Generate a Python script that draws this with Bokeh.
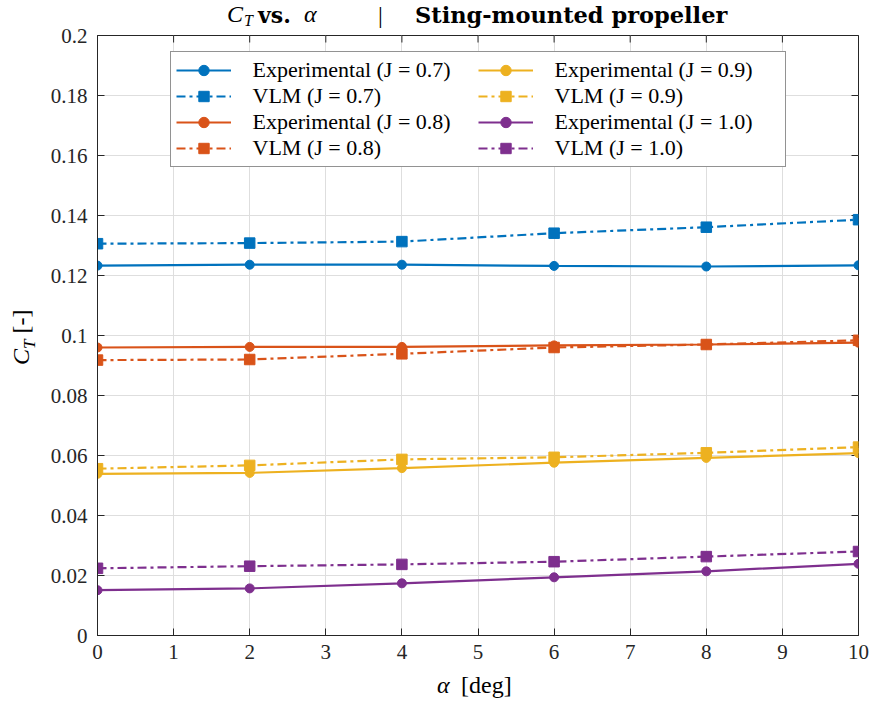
from bokeh.plotting import figure
from bokeh.models import FixedTicker, Range1d, Legend, LegendItem, Div
from bokeh.layouts import column, row
from bokeh.embed import file_html
from bokeh.resources import INLINE

# ---------------- data ----------------
alpha = [0, 2, 4, 6, 8, 10]
exp_j07 = [0.1233, 0.1236, 0.1236, 0.1232, 0.1230, 0.1234]
vlm_j07 = [0.1306, 0.1308, 0.1313, 0.1341, 0.1361, 0.1386]
exp_j08 = [0.0960, 0.0962, 0.0962, 0.0967, 0.0970, 0.0976]
vlm_j08 = [0.0918, 0.0920, 0.0939, 0.0960, 0.0970, 0.0984]
exp_j09 = [0.0539, 0.0542, 0.0558, 0.0576, 0.0592, 0.0608]
vlm_j09 = [0.0556, 0.0567, 0.0587, 0.0594, 0.0609, 0.0628]
exp_j10 = [0.0151, 0.0157, 0.0174, 0.0194, 0.0214, 0.0239]
vlm_j10 = [0.0224, 0.0231, 0.0237, 0.0246, 0.0263, 0.0280]

x_ticks = [0, 1, 2, 3, 4, 5, 6, 7, 8, 9, 10]
y_ticks = [0, 0.02, 0.04, 0.06, 0.08, 0.1, 0.12, 0.14, 0.16, 0.18, 0.2]
y_tick_labels = ["0", "0.02", "0.04", "0.06", "0.08", "0.1", "0.12", "0.14", "0.16", "0.18", "0.2"]

series = [
    ("Experimental (J = 0.7)", exp_j07, "#0072BD", "exp"),
    ("VLM (J = 0.7)", vlm_j07, "#0072BD", "vlm"),
    ("Experimental (J = 0.8)", exp_j08, "#D95319", "exp"),
    ("VLM (J = 0.8)", vlm_j08, "#D95319", "vlm"),
    ("Experimental (J = 0.9)", exp_j09, "#EDB120", "exp"),
    ("VLM (J = 0.9)", vlm_j09, "#EDB120", "vlm"),
    ("Experimental (J = 1.0)", exp_j10, "#7E2F8E", "exp"),
    ("VLM (J = 1.0)", vlm_j10, "#7E2F8E", "vlm"),
]

SERIF = "Liberation Serif"
BOLD = "DejaVu Serif"
AX = "#262626"

TITLE_H = 25
YLAB_W = 45
P_W, P_H = 871 - YLAB_W, 648
XLAB_H = 706 - TITLE_H - P_H

p = figure(width=P_W, height=P_H, output_backend="svg", toolbar_location=None,
           x_range=Range1d(0, 10), y_range=Range1d(0, 0.2),
           min_border_left=52, min_border_right=13, min_border_top=10, min_border_bottom=38,
           background_fill_color="white", border_fill_color=None,
           outline_line_color=AX, outline_line_width=1)

p.xaxis.ticker = FixedTicker(ticks=x_ticks)
p.yaxis.ticker = FixedTicker(ticks=y_ticks)
p.yaxis.major_label_overrides = {t: l for t, l in zip(y_ticks, y_tick_labels)}
p.axis.major_tick_in = 7
p.axis.major_tick_out = 0
p.axis.minor_tick_in = 0
p.axis.minor_tick_out = 0
p.axis.axis_line_color = AX
p.axis.major_tick_line_color = AX
p.axis.major_label_text_font = SERIF
p.axis.major_label_text_font_size = "21px"
p.axis.major_label_text_color = AX
p.xaxis.major_label_standoff = 9
p.yaxis.major_label_standoff = 10

p.xgrid.ticker = FixedTicker(ticks=x_ticks)
p.ygrid.ticker = FixedTicker(ticks=y_ticks)
p.grid.grid_line_color = "#dedede"
p.grid.grid_line_width = 1

# inward ticks on the right and top edges (half of each dash is clipped by the frame)
p.scatter([10] * len(y_ticks), y_ticks, marker="dash", size=14, line_color=AX, line_width=1)
p.scatter(x_ticks, [0.2] * len(x_ticks), marker="dash", angle=1.5707963, size=14,
          line_color=AX, line_width=1)

items = {}
for name, vals, col, kind in series:
    if kind == "exp":
        r1 = p.line(alpha, vals, line_color=col, line_width=2.2)
        r2 = p.scatter(alpha, vals, marker="circle", size=9, fill_color=col, line_color=col)
    else:
        r1 = p.line(alpha, vals, line_color=col, line_width=2.2, line_dash="9 4 3 4")
        r2 = p.scatter(alpha, vals, marker="square", size=10.5, fill_color=col, line_color=col)
    items[name] = LegendItem(label=name, renderers=[r1, r2])

legend = Legend(items=[items[s[0]] for s in series], ncols=2, location="top_center",
                label_text_font=SERIF, label_text_font_size="22px", label_text_color="black",
                border_line_color=AX, border_line_width=1, background_fill_alpha=1,
                glyph_width=55, glyph_height=26, label_height=26, label_width=225,
                spacing=0, padding=5, margin=16, label_standoff=22)
p.add_layout(legend, "center")


# ---------- text outside the frame, as HTML ----------
def chunk(html, left, baseline, font, size, weight="normal", style="normal"):
    top = baseline - 0.84 * size
    return ('<span style="position:absolute; left:%dpx; top:%.1fpx; font-family:\'%s\'; '
            'font-size:%.1fpx; line-height:%.1fpx; font-weight:%s; font-style:%s; '
            'white-space:nowrap; color:#000;">%s</span>'
            % (left, top, font, size, size, weight, style, html))


def box(w, h, inner):
    return ('<div style="position:relative; width:%dpx; height:%dpx; overflow:visible;">%s</div>'
            % (w, h, inner))


title_html = box(871, TITLE_H, "".join([
    chunk("C", 227, 22.5, SERIF, 24, style="italic"),
    chunk("T", 244, 26.5, SERIF, 16, style="italic"),
    chunk("vs.", 258, 22.5, BOLD, 22, weight="bold"),
    chunk("\u03b1", 304, 22.5, SERIF, 24, style="italic"),
    chunk("|", 378, 23, SERIF, 24),
    chunk("Sting-mounted propeller", 415, 22.5, BOLD, 22.5, weight="bold"),
]))
title_div = Div(text=title_html, width=871, height=TITLE_H, margin=0,
                styles={"overflow": "visible", "z-index": "2"})

ylab_inner = ('<div style="position:absolute; left:9px; top:%dpx; transform-origin:left top; '
              'transform:rotate(-90deg); white-space:nowrap; font-family:\'%s\'; font-size:24px; '
              'line-height:24px; color:#000;"><i>C</i><sub style="font-size:17px;"><i>T</i></sub>'
              '&nbsp;[-]</div>' % (365 - TITLE_H, SERIF))
ylab_div = Div(text=box(YLAB_W, P_H, ylab_inner), width=YLAB_W, height=P_H, margin=0)

xb = 693 - TITLE_H - P_H
xlab_html = box(871, XLAB_H, "".join([
    chunk("\u03b1", 437, xb, SERIF, 24, style="italic"),
    chunk("[deg]", 461, xb, SERIF, 24),
]))
xlab_div = Div(text=xlab_html, width=871, height=XLAB_H, margin=0)

layout = column(title_div, row(ylab_div, p, spacing=0), xlab_div, spacing=0)

open("out.html", "w").write(file_html(layout, INLINE))
